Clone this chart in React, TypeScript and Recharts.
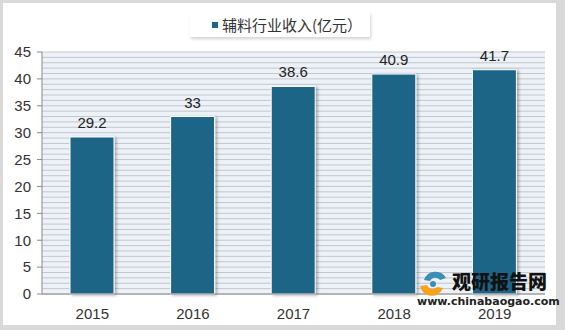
import { Bar, BarChart, CartesianGrid, LabelList, XAxis, YAxis } from "recharts";

const years = ["2015", "2016", "2017", "2018", "2019"];
const revenue = [29.2, 33, 38.6, 40.9, 41.7];
const yTicks = [0, 5, 10, 15, 20, 25, 30, 35, 40, 45];
// stripes in the plot background, one per unit
const stripeValues = Array.from({ length: 46 }, (_, i) => i);

const data = years.map((year, i) => ({ year, revenue: revenue[i] }));

const barColor = "#1b6586";
const axisColor = "#8a8a8a";
const font = "'Liberation Sans', Arial, sans-serif";

export default function App() {
  return (
    <div
      style={{
        position: "fixed",
        left: 0,
        top: 0,
        width: 565,
        height: 330,
        background: "#d9d9d9",
        fontFamily: font,
      }}
    >
      <div
        style={{
          position: "absolute",
          left: 3,
          top: 3,
          width: 553,
          height: 322,
          background: "#ffffff",
        }}
      />
      <div style={{ position: "absolute", left: 0, top: 0 }}>
        <BarChart
          width={565}
          height={330}
          data={data}
          margin={{ top: 52, right: 20, bottom: 6, left: 0 }}
        >
          <defs>
            <filter id="barShadow" x="-20%" y="-10%" width="140%" height="120%">
              <feDropShadow dx="2" dy="1" stdDeviation="1.5" floodColor="#000" floodOpacity="0.3" />
            </filter>
          </defs>
          <CartesianGrid
            vertical={false}
            horizontalValues={stripeValues}
            stroke="#c3c7cc"
            fill="#edf2f8"
          />
          <XAxis
            dataKey="year"
            height={30}
            tickLine={false}
            axisLine={{ stroke: axisColor }}
            tick={{ fontSize: 15, fill: "#333", fontFamily: font }}
            tickMargin={8}
          />
          <YAxis
            width={42}
            domain={[0, 45]}
            ticks={yTicks}
            interval={0}
            tickSize={5}
            tickMargin={6}
            tickLine={{ stroke: axisColor }}
            axisLine={{ stroke: axisColor }}
            tick={{ fontSize: 15, fill: "#333", fontFamily: font }}
          />
          <Bar
            dataKey="revenue"
            fill={barColor}
            stroke="#ffffff"
            strokeWidth={1}
            barSize={44}
            filter="url(#barShadow)"
            isAnimationActive={false}
          >
            <LabelList
              dataKey="revenue"
              position="top"
              offset={9}
              style={{ fontSize: 15, fill: "#222", fontFamily: font }}
            />
          </Bar>
        </BarChart>
      </div>

      <div
        style={{
          position: "absolute",
          left: 190,
          top: 12,
          width: 180,
          height: 25,
          background: "#fff",
          boxShadow: "1px 2px 3px rgba(0,0,0,0.18)",
          display: "flex",
          alignItems: "center",
          paddingLeft: 22,
          boxSizing: "border-box",
          fontFamily: "'Noto Sans CJK SC', sans-serif",
          fontSize: 15,
          color: "#333",
          whiteSpace: "nowrap",
        }}
      >
        <span style={{ width: 6, height: 6, background: barColor, marginRight: 4, display: "inline-block" }} />
        辅料行业收入(亿元）
      </div>

      <div style={{ position: "absolute", left: 417, top: 268, width: 140, height: 45 }}>
        <svg width={32} height={26} style={{ position: "absolute", left: 0, top: 2 }}>
          <path d="M3 16 A12 12 0 0 0 26 18 L20 17 A6 6 0 0 1 10 15 Z" fill="#f7a21b" />
          <path d="M7 10 A12 12 0 0 1 29 8 L23 10 A6 6 0 0 0 13 11 Z" fill="#3b8fb4" />
          <circle cx={16} cy={14} r={3} fill="#3b8fb4" />
        </svg>
        <div
          style={{
            position: "absolute",
            left: 35,
            top: 0,
            fontFamily: "'Noto Sans CJK SC', sans-serif",
            fontWeight: 900,
            fontSize: 19,
            lineHeight: "26px",
            color: "#111",
            whiteSpace: "nowrap",
          }}
        >
          观研报告网
        </div>
        <div
          style={{
            position: "absolute",
            left: 0,
            top: 27,
            fontFamily: "'DejaVu Sans', sans-serif",
            fontWeight: 700,
            fontSize: 11,
            color: "#222",
            whiteSpace: "nowrap",
          }}
        >
          www.chinabaogao.com
        </div>
      </div>
    </div>
  );
}
